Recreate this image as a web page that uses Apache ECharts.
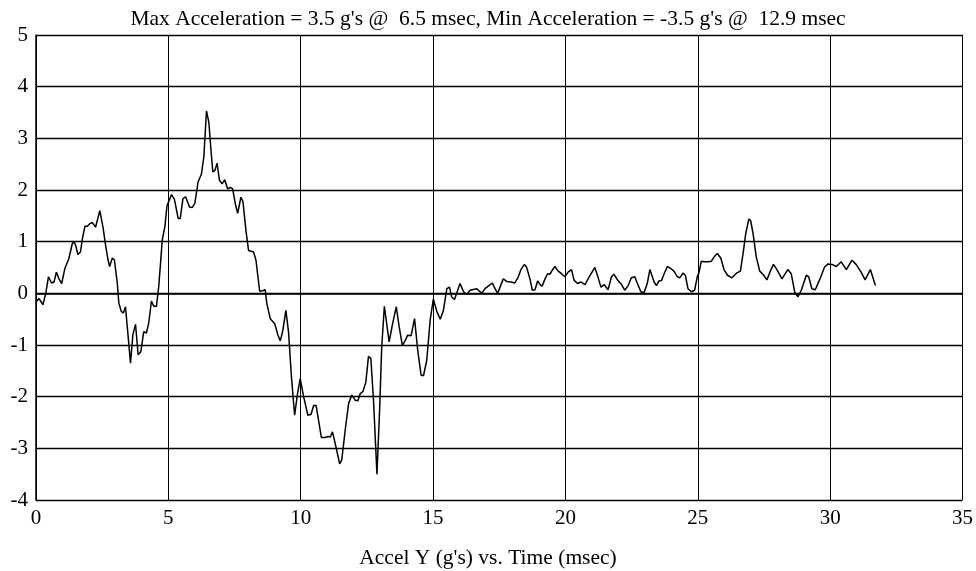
<!DOCTYPE html>
<html>
<head>
<meta charset="utf-8">
<script src="https://cdn.jsdelivr.net/npm/echarts@6/dist/echarts.min.js"></script>
<style>
  html, body { margin: 0; padding: 0; background: #fff; }
  #chart { width: 976px; height: 571px; }
</style>
</head>
<body>
<div id="chart"></div>
<script>
// time (msec) and acceleration (g's)
var timeMs = [
  0.00, 0.11, 0.26, 0.37, 0.47, 0.59, 0.68, 0.77, 0.87, 0.97,
  1.09, 1.24, 1.37, 1.43, 1.50, 1.58, 1.68, 1.75, 1.85, 1.94,
  2.04, 2.13, 2.25, 2.41, 2.53, 2.63, 2.72, 2.78, 2.88, 2.96,
  3.07, 3.13, 3.22, 3.30, 3.38, 3.47, 3.57, 3.66, 3.76, 3.86,
  3.96, 4.07, 4.17, 4.26, 4.36, 4.45, 4.55, 4.64, 4.77, 4.87,
  4.95, 5.12, 5.23, 5.37, 5.45, 5.55, 5.65, 5.80, 5.90, 6.00,
  6.12, 6.25, 6.34, 6.44, 6.53, 6.61, 6.68, 6.76, 6.84, 6.93,
  7.03, 7.13, 7.24, 7.34, 7.43, 7.53, 7.62, 7.74, 7.82, 7.93,
  8.03, 8.22, 8.31, 8.45, 8.56, 8.66, 8.72, 8.85, 9.02, 9.14,
  9.23, 9.32, 9.44, 9.54, 9.65, 9.77, 9.88, 9.98, 10.11, 10.27,
  10.39, 10.49, 10.58, 10.78, 10.93, 11.03, 11.12, 11.20, 11.33, 11.47,
  11.55, 11.68, 11.81, 11.93, 12.06, 12.16, 12.25, 12.35, 12.46, 12.56,
  12.65, 12.75, 12.88, 12.98, 13.06, 13.16, 13.34, 13.47, 13.61, 13.72,
  13.84, 13.95, 14.04, 14.17, 14.30, 14.42, 14.55, 14.64, 14.76, 14.89,
  15.01, 15.14, 15.27, 15.39, 15.52, 15.62, 15.70, 15.81, 15.93, 16.02,
  16.15, 16.27, 16.40, 16.65, 16.84, 16.96, 17.11, 17.24, 17.34, 17.44,
  17.53, 17.65, 17.78, 17.94, 18.09, 18.22, 18.32, 18.45, 18.53, 18.66,
  18.75, 18.85, 18.95, 19.04, 19.12, 19.23, 19.33, 19.42, 19.48, 19.60,
  19.73, 19.85, 19.98, 20.10, 20.23, 20.33, 20.46, 20.58, 20.74, 20.92,
  21.11, 21.24, 21.34, 21.46, 21.61, 21.74, 21.83, 21.97, 22.12, 22.24,
  22.37, 22.49, 22.62, 22.72, 22.85, 22.97, 23.09, 23.19, 23.25, 23.35,
  23.44, 23.53, 23.63, 23.73, 23.85, 23.98, 24.10, 24.23, 24.32, 24.44,
  24.53, 24.63, 24.76, 24.88, 24.98, 25.05, 25.13, 25.26, 25.39, 25.51,
  25.64, 25.74, 25.87, 25.99, 26.12, 26.29, 26.46, 26.61, 26.71, 26.81,
  26.93, 27.00, 27.09, 27.21, 27.34, 27.46, 27.61, 27.74, 27.86, 28.00,
  28.18, 28.40, 28.53, 28.66, 28.78, 28.91, 29.10, 29.19, 29.31, 29.44,
  29.60, 29.79, 29.92, 30.07, 30.23, 30.42, 30.61, 30.82, 30.98, 31.17,
  31.32, 31.52, 31.71
];
var accelG = [
  -0.17, -0.10, -0.22, 0.00, 0.32, 0.20, 0.22, 0.41, 0.28, 0.19,
  0.48, 0.67, 0.96, 1.00, 0.93, 0.75, 0.80, 1.05, 1.30, 1.30,
  1.35, 1.37, 1.28, 1.60, 1.28, 0.93, 0.65, 0.52, 0.68, 0.65,
  0.20, -0.19, -0.35, -0.38, -0.26, -0.77, -1.35, -0.80, -0.60, -1.19,
  -1.13, -0.74, -0.77, -0.57, -0.15, -0.25, -0.25, 0.15, 1.03, 1.30,
  1.70, 1.91, 1.82, 1.45, 1.45, 1.83, 1.87, 1.67, 1.66, 1.74,
  2.15, 2.31, 2.64, 3.53, 3.31, 2.77, 2.35, 2.38, 2.52, 2.19,
  2.12, 2.20, 2.02, 2.05, 2.02, 1.73, 1.55, 1.86, 1.77, 1.22,
  0.83, 0.80, 0.64, 0.04, 0.05, 0.07, -0.20, -0.49, -0.59, -0.81,
  -0.92, -0.73, -0.33, -0.75, -1.62, -2.36, -1.94, -1.65, -2.00, -2.36,
  -2.34, -2.17, -2.17, -2.79, -2.79, -2.77, -2.78, -2.68, -2.97, -3.30,
  -3.23, -2.65, -2.13, -1.97, -2.07, -2.08, -1.94, -1.90, -1.72, -1.22,
  -1.26, -2.07, -3.50, -2.26, -1.04, -0.25, -0.94, -0.59, -0.26, -0.65,
  -1.01, -0.91, -0.81, -0.82, -0.49, -1.10, -1.59, -1.59, -1.30, -0.52,
  -0.11, -0.35, -0.50, -0.33, 0.09, 0.12, -0.07, -0.12, 0.06, 0.19,
  0.03, -0.02, 0.06, 0.09, 0.00, 0.09, 0.15, 0.20, 0.09, 0.00,
  0.12, 0.28, 0.23, 0.22, 0.20, 0.32, 0.46, 0.56, 0.51, 0.28,
  0.06, 0.07, 0.24, 0.17, 0.14, 0.28, 0.38, 0.37, 0.43, 0.52,
  0.43, 0.38, 0.32, 0.41, 0.46, 0.25, 0.19, 0.22, 0.17, 0.34,
  0.50, 0.30, 0.12, 0.17, 0.07, 0.32, 0.37, 0.26, 0.17, 0.06,
  0.15, 0.30, 0.32, 0.19, 0.03, 0.01, 0.19, 0.46, 0.45, 0.22,
  0.15, 0.24, 0.25, 0.38, 0.52, 0.48, 0.43, 0.32, 0.30, 0.39,
  0.35, 0.09, 0.03, 0.06, 0.32, 0.41, 0.62, 0.61, 0.61, 0.62,
  0.72, 0.77, 0.68, 0.46, 0.35, 0.30, 0.39, 0.43, 0.77, 1.15,
  1.44, 1.40, 1.15, 0.70, 0.43, 0.37, 0.26, 0.43, 0.56, 0.45,
  0.28, 0.46, 0.38, 0.03, -0.07, 0.06, 0.35, 0.32, 0.09, 0.07,
  0.26, 0.51, 0.57, 0.56, 0.52, 0.61, 0.46, 0.64, 0.56, 0.41,
  0.26, 0.46, 0.15
];

var titleText = "Max Acceleration = 3.5 g's @  6.5 msec, Min Acceleration = -3.5 g's @  12.9 msec";
var xAxisTitle = "Accel Y (g's) vs. Time (msec)";

var serif = "'Liberation Serif', 'Times New Roman', serif";

var chart = echarts.init(document.getElementById('chart'));
chart.setOption({
  animation: false,
  backgroundColor: '#fff',
  title: [
    {
      text: titleText,
      left: 'center',
      top: 3,
      textStyle: { fontFamily: serif, fontSize: 21.5, fontWeight: 'normal', color: '#000' }
    },
    {
      text: xAxisTitle,
      left: 'center',
      top: 542,
      textStyle: { fontFamily: serif, fontSize: 21.5, fontWeight: 'normal', color: '#000' }
    }
  ],
  grid: { left: 36, right: 10, top: 35, bottom: 71 },
  xAxis: {
    type: 'value',
    min: 0,
    max: 35,
    interval: 5,
    axisLine: { lineStyle: { color: '#000', width: 1.5 } },
    axisTick: { show: false },
    axisLabel: { color: '#000', fontFamily: serif, fontSize: 21, margin: 8 },
    splitLine: { show: true, lineStyle: { color: '#000', width: 1 } }
  },
  yAxis: {
    type: 'value',
    min: -4,
    max: 5,
    interval: 1,
    axisLine: { show: true, lineStyle: { color: '#000', width: 1.5 } },
    axisTick: { show: false },
    axisLabel: { color: '#000', fontFamily: serif, fontSize: 21, margin: 8 },
    splitLine: { show: true, lineStyle: { color: '#000', width: 1.3 } }
  },
  series: [{
    type: 'line',
    data: timeMs.map(function (t, i) { return [t, accelG[i]]; }),
    showSymbol: false,
    smooth: false,
    lineStyle: { color: '#000', width: 1.5 }
  }]
});
</script>
</body>
</html>
